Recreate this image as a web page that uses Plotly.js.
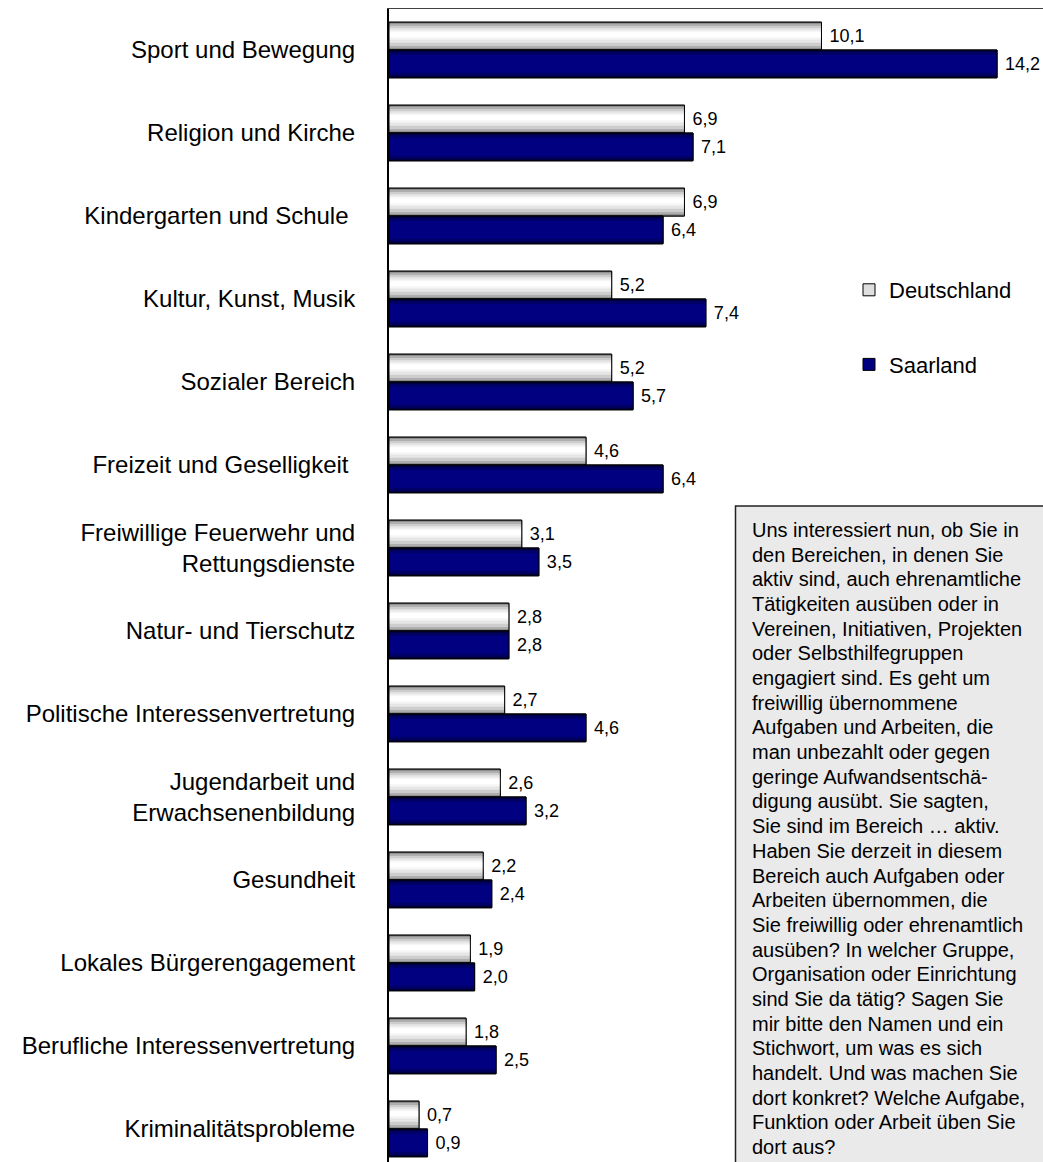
<!DOCTYPE html>
<html><head><meta charset="utf-8">
<script src="https://cdn.plot.ly/plotly-3.0.1.min.js"></script>
<style>html,body{margin:0;padding:0;background:#fff}</style>
</head><body><div id="chart" style="width:1043px;height:1162px"></div>
<script>
const categories = [
  'Sport und Bewegung',
  'Religion und Kirche',
  'Kindergarten und Schule ',
  'Kultur, Kunst, Musik',
  'Sozialer Bereich',
  'Freizeit und Geselligkeit ',
  'Freiwillige Feuerwehr und<br>Rettungsdienste',
  'Natur- und Tierschutz',
  'Politische Interessenvertretung',
  'Jugendarbeit und<br>Erwachsenenbildung',
  'Gesundheit',
  'Lokales Bürgerengagement',
  'Berufliche Interessenvertretung',
  'Kriminalitätsprobleme'
];
const deutschland = [10.1, 6.9, 6.9, 5.2, 5.2, 4.6, 3.1, 2.8, 2.7, 2.6, 2.2, 1.9, 1.8, 0.7];
const saarland    = [14.2, 7.1, 6.4, 7.4, 5.7, 6.4, 3.5, 2.8, 4.6, 3.2, 2.4, 2.0, 2.5, 0.9];
const seriesNames = ['Deutschland', 'Saarland'];
const noteLines = [
  'Uns interessiert nun, ob Sie in',
  'den Bereichen, in denen Sie',
  'aktiv sind, auch ehrenamtliche',
  'Tätigkeiten ausüben oder in',
  'Vereinen, Initiativen, Projekten',
  'oder Selbsthilfegruppen',
  'engagiert sind. Es geht um',
  'freiwillig übernommene',
  'Aufgaben und Arbeiten, die',
  'man unbezahlt oder gegen',
  'geringe Aufwandsentschä-',
  'digung ausübt. Sie sagten,',
  'Sie sind im Bereich … aktiv.',
  'Haben Sie derzeit in diesem',
  'Bereich auch Aufgaben oder',
  'Arbeiten übernommen, die',
  'Sie freiwillig oder ehrenamtlich',
  'ausüben? In welcher Gruppe,',
  'Organisation oder Einrichtung',
  'sind Sie da tätig? Sagen Sie',
  'mir bitte den Namen und ein',
  'Stichwort, um was es sich',
  'handelt. Und was machen Sie',
  'dort konkret? Welche Aufgabe,',
  'Funktion oder Arbeit üben Sie',
  'dort aus?'
];

const W = 1043, H = 1162, L = 389, T = 9, B = 0, R = 0;
const plotW = W - L - R, plotH = H - T - B;
const px2x = p => (p - L) / plotW;
const py2y = p => (H - B - p) / plotH;
const barW = 0.335;
const FONT = 'Liberation Sans, Arial, Helvetica, sans-serif';
const fmt = v => '\u00a0' + v.toFixed(1).replace('.', ',');

function mainTrace(vals, name, off, color) {
  return {
    type: 'bar', orientation: 'h', name: name, legendgroup: name,
    x: vals, y: categories, offset: off, width: barW,
    marker: {color: color, line: {color: '#000', width: 1}},
    text: vals.map(fmt), textposition: 'outside', cliponaxis: false,
    constraintext: 'none',
    textfont: {family: FONT, size: 18, color: '#000'},
    hoverinfo: 'x+name'
  };
}
function layer(vals, off, f1, f2, color) {
  return {
    type: 'bar', orientation: 'h', x: vals, y: categories,
    offset: off + f1 * barW, width: (f2 - f1) * barW,
    marker: {color: color, line: {width: 0}},
    showlegend: false, hoverinfo: 'skip'
  };
}
function outline(vals, off) {
  return {
    type: 'bar', orientation: 'h', x: vals, y: categories,
    offset: off, width: barW,
    marker: {color: 'rgba(0,0,0,0)', line: {color: '#000', width: 1}},
    showlegend: false, hoverinfo: 'skip'
  };
}

const dOff = -barW, sOff = 0;
const traces = [
  mainTrace(deutschland, seriesNames[0], dOff, '#dedede'),
  layer(deutschland, dOff, 0.00, 1.00, '#858585'),
  layer(deutschland, dOff, 0.06, 0.94, '#aeaeae'),
  layer(deutschland, dOff, 0.14, 0.86, '#cdcdcd'),
  layer(deutschland, dOff, 0.22, 0.74, '#e6e6e6'),
  layer(deutschland, dOff, 0.30, 0.62, '#f6f6f6'),
  layer(deutschland, dOff, 0.36, 0.54, '#ffffff'),
  outline(deutschland, dOff),
  mainTrace(saarland, seriesNames[1], sOff, '#000080'),
  layer(saarland, sOff, 0.00, 1.00, '#000040'),
  layer(saarland, sOff, 0.08, 0.92, '#000068'),
  layer(saarland, sOff, 0.18, 0.82, '#000080'),
  outline(saarland, sOff)
];

const annotations = noteLines.map((t, i) => ({
  xref: 'paper', yref: 'paper', x: px2x(750), y: py2y(530 + i * 24.68),
  xanchor: 'left', yanchor: 'middle', showarrow: false, align: 'left',
  text: t, font: {family: FONT, size: 20, color: '#000'}
}));

const layout = {
  width: W, height: H, autosize: false,
  margin: {l: L, r: R, t: T, b: B, pad: 0},
  paper_bgcolor: '#fff', plot_bgcolor: '#fff',
  font: {family: FONT, color: '#000'},
  barmode: 'overlay',
  showlegend: true,
  xaxis: {
    range: [0, plotW / 42.82], side: 'top', showline: true, linecolor: '#404040',
    linewidth: 1, showgrid: false, zeroline: false, showticklabels: false, ticks: ''
  },
  yaxis: {
    type: 'category', range: [13.398, -0.494], showline: true, linecolor: '#000',
    linewidth: 2, showgrid: false, zeroline: false, ticks: '',
    ticklabelstandoff: 27,
    tickfont: {family: FONT, size: 24, color: '#000'}
  },
  legend: {
    x: px2x(849), y: py2y(269), xanchor: 'left', yanchor: 'top',
    bgcolor: 'rgba(0,0,0,0)', borderwidth: 0,
    font: {family: FONT, size: 22, color: '#000'},
    traceorder: 'grouped', tracegroupgap: 43
  },
  shapes: [{
    type: 'rect', xref: 'paper', yref: 'paper',
    x0: px2x(735.5), x1: px2x(1060), y0: py2y(506), y1: py2y(1180),
    fillcolor: '#eaeaea', line: {color: '#222', width: 1.5}, layer: 'below'
  }],
  annotations: annotations
};

Plotly.newPlot('chart', traces, layout, {staticPlot: true, displayModeBar: false});
</script>
</body></html>
